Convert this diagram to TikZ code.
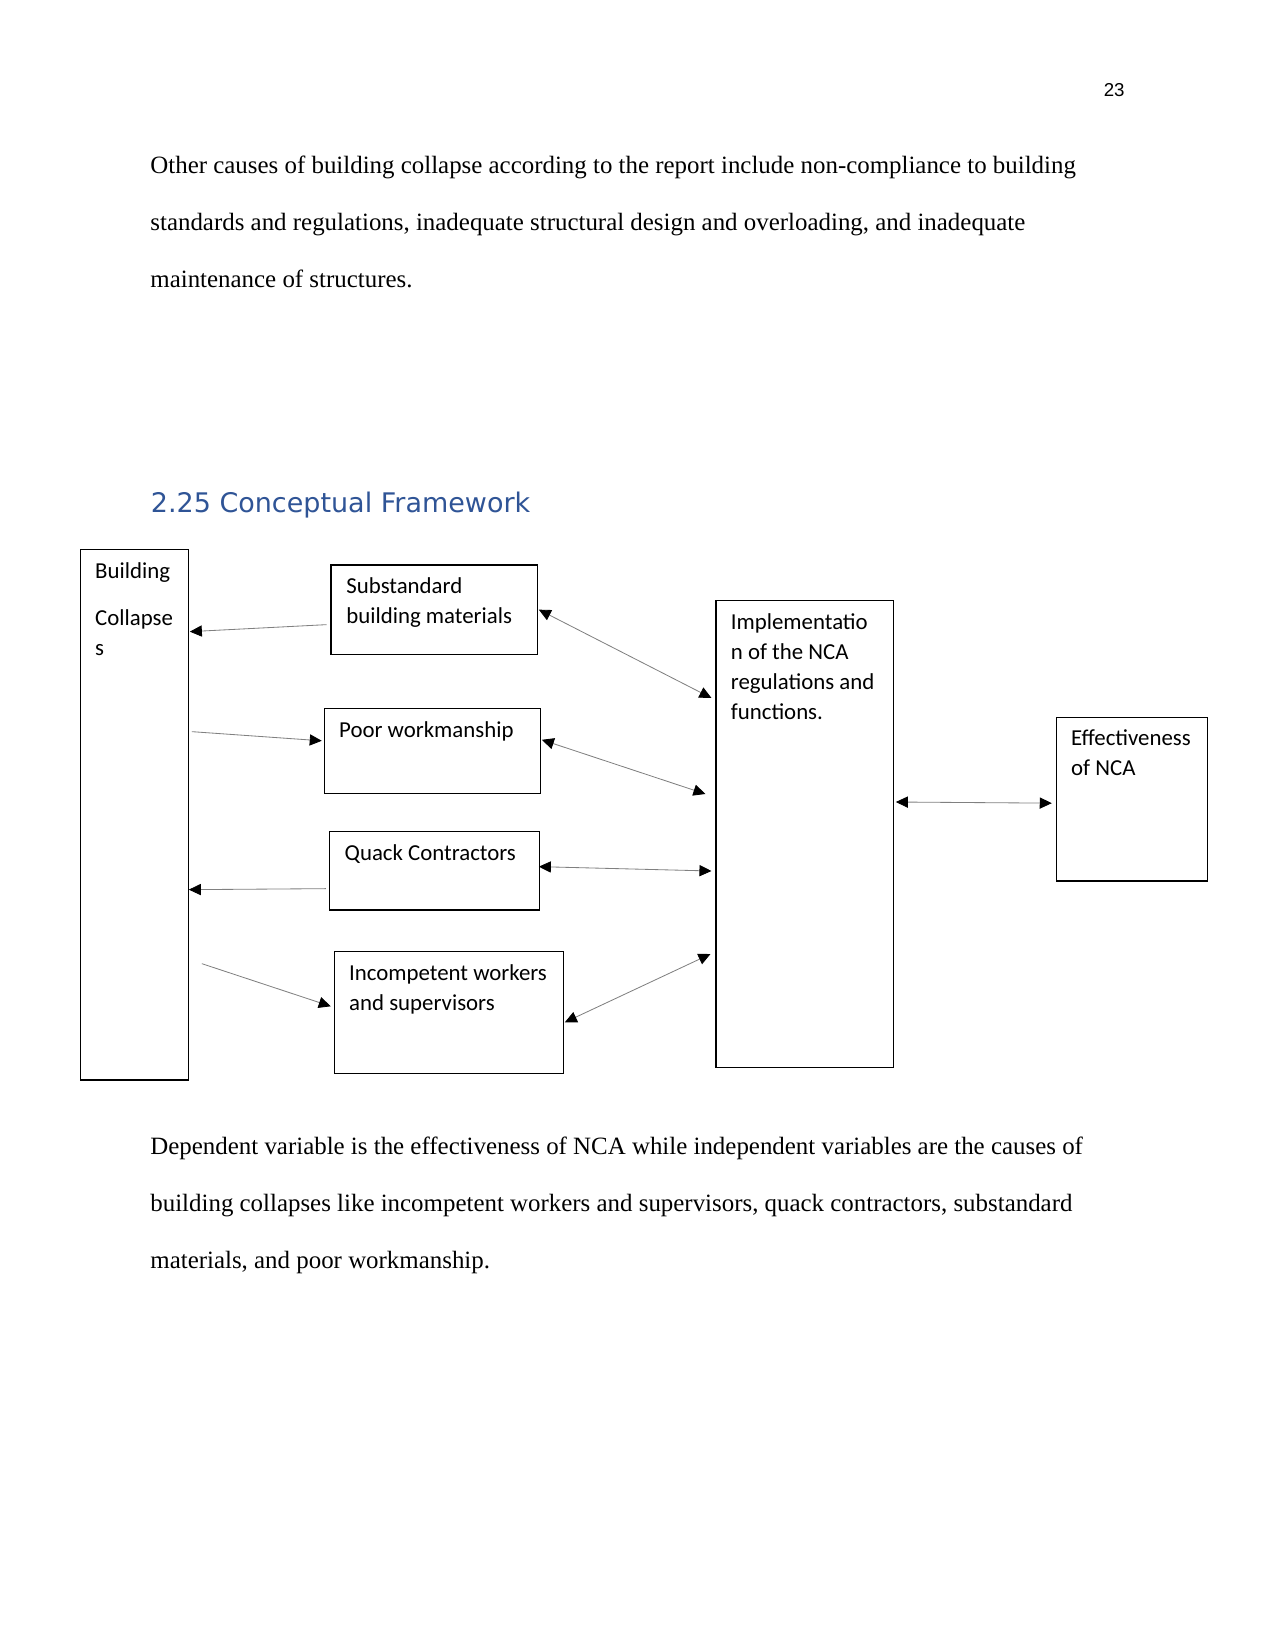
\documentclass[tikz,border=0pt]{standalone}
\usepackage{fontspec}
\setmainfont{Liberation Serif}
\newfontfamily\boxfont{Carlito}
\newfontfamily\headfont{DejaVu Sans}
\newfontfamily\numfont{Liberation Sans}
\usetikzlibrary{arrows.meta,calc,fit}
\definecolor{headblue}{RGB}{47,84,150}
% lines of text, baseline at the first line
\newcommand\stack[1]{\begin{tabular}[t]{@{}l@{}}#1\end{tabular}}

\begin{document}
\begin{tikzpicture}[x=0.4818pt,y=-0.4818pt,>={Triangle[length=5.8pt,width=5.4pt,color=black]},
  box/.style={draw,line width=0.5pt,inner sep=0pt},
  boxtext/.style={anchor=base west,inner sep=0pt,font=\boxfont\fontsize{11}{14.45}\selectfont},
  para/.style={anchor=base west,inner sep=0pt,font=\fontsize{12}{27.6}\selectfont},
  link/.style={draw=gray,line width=0.4pt}]
\useasboundingbox (0,0) rectangle (1275,1651);

\node[anchor=base east,inner sep=0pt,font=\numfont\fontsize{9}{11}\selectfont] (pagenum) at (1125,97) {23};

\node[para] (intro) at (150,173.3) {\stack{Other causes of building collapse according to the report include non-compliance to building\\
standards and regulations, inadequate structural design and overloading, and inadequate\\
maintenance of structures.}};

\node[anchor=base west,inner sep=0pt,font=\headfont\fontsize{13}{16}\selectfont,text=headblue] (heading) at (150.5,512.3) {2.25 Conceptual Framework};

% boxes
\node[box,fit={(80.3,549.3) (188.3,1080)}] (collapse) {};
\node[box,fit={(331,565) (537.3,654.3)}] (materials) {};
\node[box,fit={(324.3,708.3) (540.3,793.3)}] (workmanship) {};
\node[box,fit={(329.3,831.3) (539.3,910)}] (quack) {};
\node[box,fit={(334.3,951.3) (563.3,1073.3)}] (workers) {};
\node[box,fit={(716,600.3) (893.3,1067.7)}] (nca) {};
\node[box,fit={(1056.3,717.3) (1207.3,881)}] (effect) {};

\node[boxtext] (collapse-t) at ($(collapse.north west)+(15,30)$) {\stack{Building\\[8.2pt]Collapse\\s}};
\node[boxtext] (materials-t) at ($(materials.north west)+(15.5,29.5)$) {\stack{Substandard\\building materials}};
\node[boxtext] (workmanship-t) at ($(workmanship.north west)+(15,29.5)$) {Poor workmanship};
\node[boxtext] (quack-t) at ($(quack.north west)+(15.5,29.5)$) {Quack Contractors};
\node[boxtext] (workers-t) at ($(workers.north west)+(15,30)$) {\stack{Incompetent workers\\and supervisors}};
\node[boxtext] (nca-t) at ($(nca.north west)+(15,29.5)$) {\stack{Implementatio\\n of the NCA\\regulations and\\functions.}};
\node[boxtext] (effect-t) at ($(effect.north west)+(15,29)$) {\stack{Effectiveness\\of NCA}};

% connectors
\draw[link,->] ($(materials.west)+(-4,15)$) -- ($(collapse.east)+(1,-183)$);
\draw[link,->] ($(collapse.east)+(3,-83)$) -- ($(workmanship.west)+(-2,-10)$);
\draw[link,->] ($(quack.west)+(-3,18)$) -- ($(collapse.east)+(0,75)$);
\draw[link,->] ($(collapse.east)+(13,149)$) -- ($(workers.west)+(-3,-6)$);

\draw[link,<->] ($(materials.east)+(1,0)$) -- ($(nca.west)+(-4,-136)$);
\draw[link,<->] ($(workmanship.east)+(1,-11)$) -- ($(nca.west)+(-10,-40)$);
\draw[link,<->] ($(quack.east)+(-1,-4)$) -- ($(nca.west)+(-4,37)$);
\draw[link,<->] ($(workers.east)+(1,10)$) -- ($(nca.west)+(-5,120)$);
\draw[link,<->] ($(nca.east)+(2,-32)$) -- ($(effect.west)+(-4,4)$);

\node[para] (summary) at (150,1154) {\stack{Dependent variable is the effectiveness of NCA while independent variables are the causes of\\
building collapses like incompetent workers and supervisors, quack contractors, substandard\\
materials, and poor workmanship.}};
\end{tikzpicture}
\end{document}
